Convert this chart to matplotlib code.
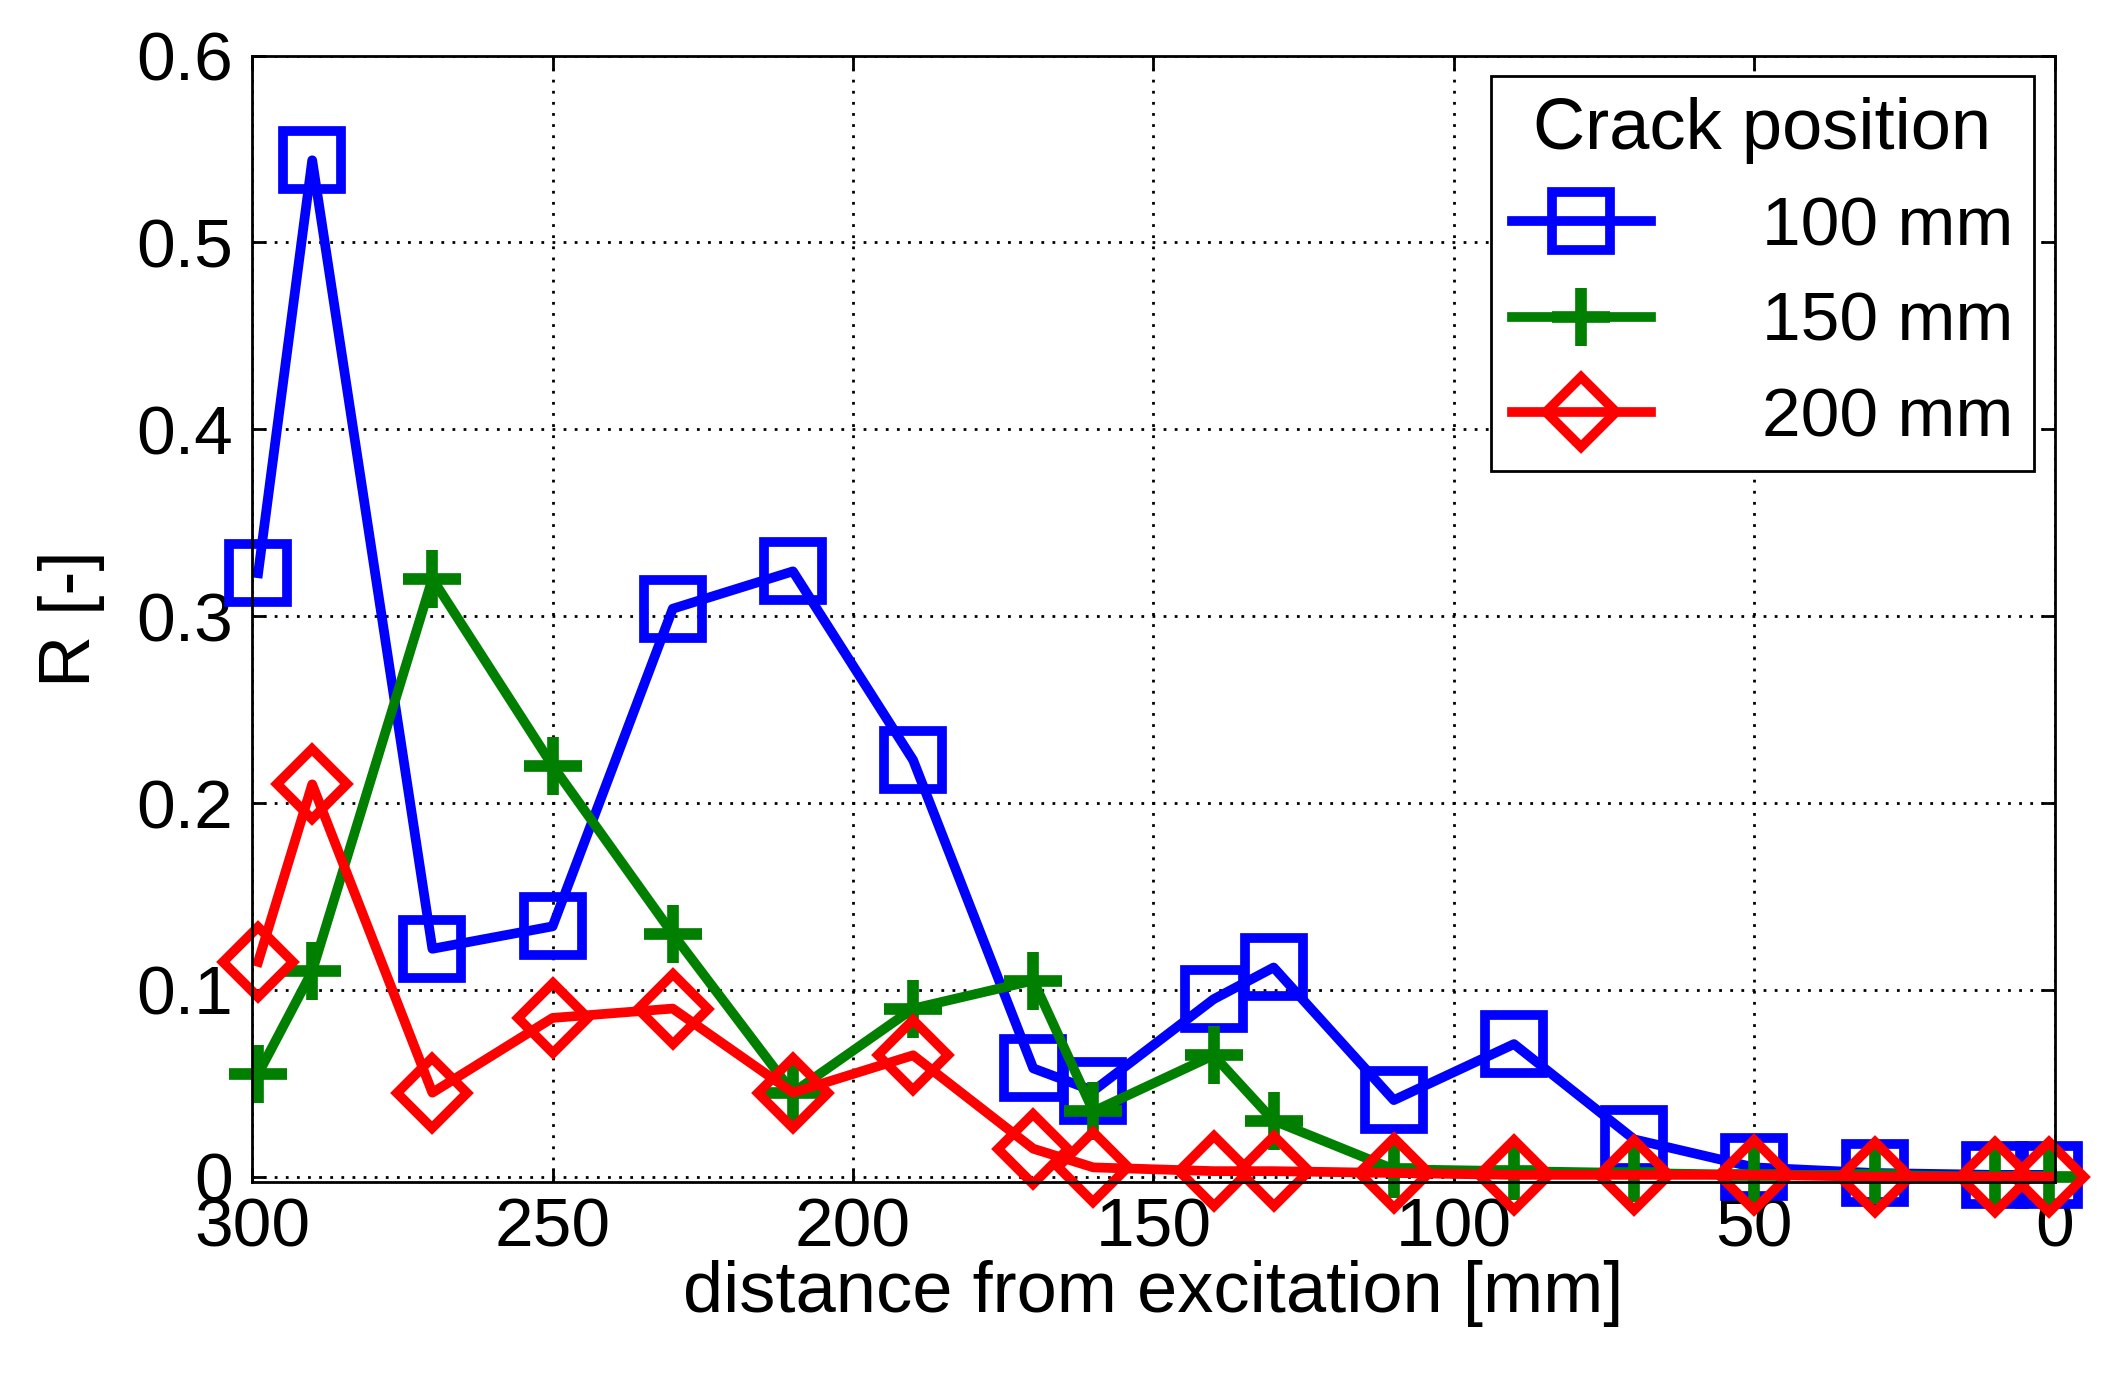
import matplotlib
matplotlib.use("Agg")
import matplotlib.pyplot as plt

plt.rcParams['font.family'] = ['Liberation Sans', 'DejaVu Sans']

x = [299, 290, 270, 250, 230, 210, 190, 170, 160, 140, 130, 110, 90, 70, 50, 30, 10, 1]
blue = [0.323, 0.544, 0.122, 0.134, 0.304, 0.324, 0.223, 0.058, 0.046, 0.095, 0.112, 0.041, 0.071, 0.02, 0.005, 0.002, 0.001, 0.001]
green = [0.055, 0.11, 0.32, 0.22, 0.13, 0.045, 0.09, 0.105, 0.035, 0.065, 0.03, 0.004, 0.003, 0.002, 0.001, 0.001, 0.0, 0.0]
red = [0.115, 0.21, 0.045, 0.085, 0.09, 0.045, 0.065, 0.015, 0.005, 0.003, 0.003, 0.002, 0.001, 0.001, 0.001, 0.0, 0.0, 0.0]
labels = ['100 mm', '150 mm', '200 mm']

fig = plt.figure(figsize=(21.01, 13.91), dpi=100)
ax = fig.add_axes([0.12, 0.15, 0.858, 0.81])
lw, ms, mew = 7, 42, 7
ax.plot(x, blue, '-s', color='#0000ff', lw=lw, ms=ms, mew=mew, mfc='none', clip_on=False, label=labels[0])
ax.plot(x, green, '-+', color='#007f00', lw=lw, ms=ms, mew=mew*1.2, clip_on=False, label=labels[1])
ax.plot(x, red, '-D', color='#ff0000', lw=lw, ms=ms*0.85, mew=mew, mfc='none', clip_on=False, label=labels[2])
ax.set_xlim(300, 0)
ax.set_ylim(-0.003, 0.6)
ax.set_xticks([300, 250, 200, 150, 100, 50, 0])
ax.set_yticks([0, 0.1, 0.2, 0.3, 0.4, 0.5, 0.6])
ax.set_yticklabels(['0', '0.1', '0.2', '0.3', '0.4', '0.5', '0.6'])
ax.grid(True, linestyle=(0, (1, 3)), color='black', lw=2)
ax.tick_params(direction='in', labelsize=50, length=10, width=2, top=True, right=True, pad=10)
ax.tick_params(axis='y', pad=14)
for s in ax.spines.values():
    s.set_linewidth(2)
ax.set_xlabel('distance from excitation [mm]', fontsize=52, labelpad=0)
ax.set_ylabel('R [-]', fontsize=52, labelpad=22)
leg = ax.legend(title='Crack position', fontsize=50, title_fontsize=52, loc='upper right',
                fancybox=False, edgecolor='black', framealpha=1, handlelength=2.0,
                borderaxespad=0.3, labelspacing=0.45, handletextpad=1.6, borderpad=0.3)
leg.get_frame().set_linewidth(2)
fig.savefig('out.png', dpi=100)
